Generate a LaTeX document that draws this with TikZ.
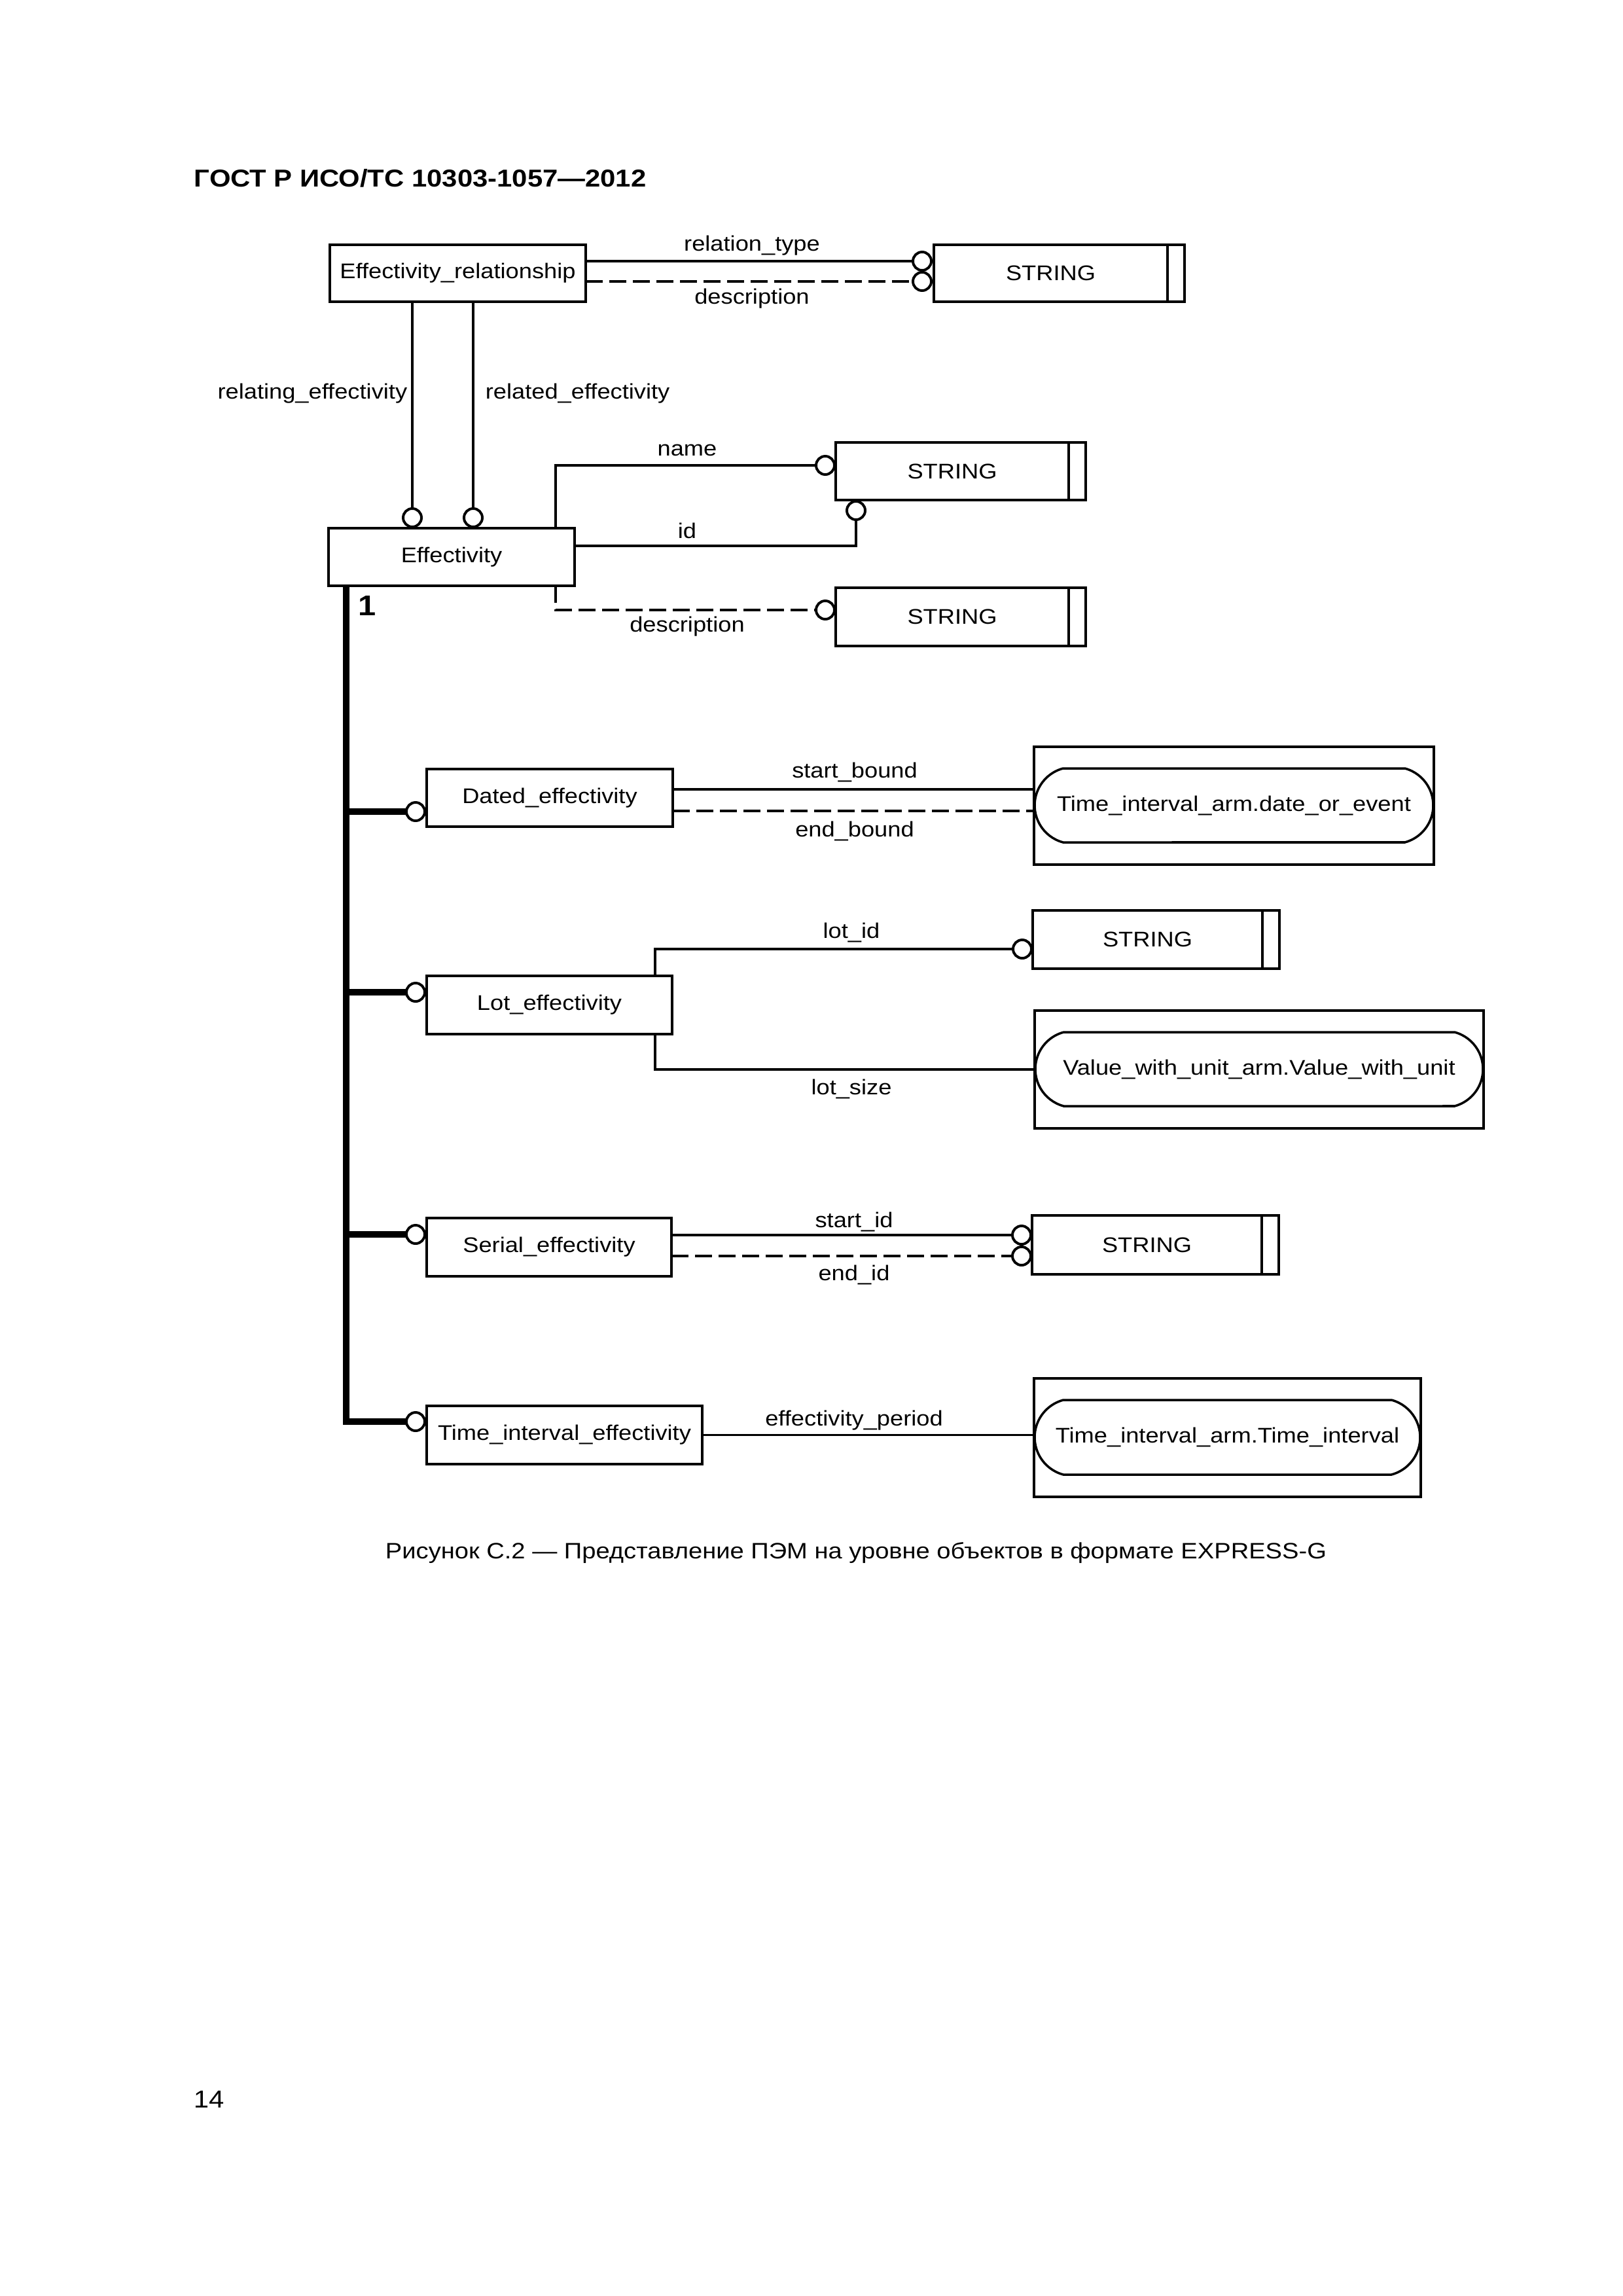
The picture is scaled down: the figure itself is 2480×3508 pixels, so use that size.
\documentclass[tikz,border=0pt]{standalone}
\usepackage{fontspec}
\setmainfont{Liberation Sans}[FakeStretch=1.12]
\usetikzlibrary{shapes.misc,calc}
\newlength{\pxu}\setlength{\pxu}{0.084677mm}
\newcommand{\lblfont}{\fontsize{7.8pt}{9pt}\selectfont}
\newcommand{\hdrfont}{\fontsize{9pt}{11pt}\selectfont\bfseries}
\begin{document}
\begin{tikzpicture}[x=0.084677mm, y=-0.084677mm,
  ln/.style={line width=0.85pt},
  box/.style={draw, rectangle, inner sep=0pt, outer sep=0pt, line width=0.95pt, font=\lblfont},
  rbox/.style={draw, rounded rectangle, rounded rectangle arc length=150, inner sep=0pt, outer sep=0pt, line width=0.85pt, font=\lblfont},
  circ/.style={draw, circle, fill=white, minimum size=28\pxu, inner sep=0pt, outer sep=0pt, line width=0.95pt},
  lbl/.style={inner sep=0pt, font=\lblfont},
  trunk/.style={line width=2.4pt},
  dsh/.style={dash pattern=on 26\pxu off 10\pxu}]
\useasboundingbox (0,0) rectangle (2480,3508);
\fill[white] (0,0) rectangle (2480,3508);

% header
\node[inner sep=0pt, anchor=west, font=\hdrfont] (hdr) at (296,272) {ГОСТ Р ИСО/ТС 10303-1057—2012};

% boxes
\node[box, minimum width=391\pxu, minimum height=87\pxu] (er) at (699.5,417.5) {Effectivity\_relationship};
\node[box, minimum width=357\pxu, minimum height=87\pxu] (s1) at (1605.5,417.5) {STRING};
\node[box, minimum width=376\pxu, minimum height=88\pxu] (eff) at (690,851) {Effectivity};
\node[box, minimum width=356\pxu, minimum height=88\pxu] (s2) at (1455,720) {STRING};
\node[box, minimum width=356\pxu, minimum height=89\pxu] (s3) at (1455,942.5) {STRING};
\node[box, minimum width=376\pxu, minimum height=88\pxu] (dated) at (840,1219) {Dated\_effectivity};
\node[box, minimum width=611\pxu, minimum height=180\pxu] (o1) at (1885.5,1231) {};
\node[rbox, minimum width=609\pxu, minimum height=113\pxu] (r1) at (1885.5,1230.5) {Time\_interval\_arm.date\_or\_event};
\node[box, minimum width=375\pxu, minimum height=89\pxu] (lot) at (839.5,1535.5) {Lot\_effectivity};
\node[box, minimum width=351\pxu, minimum height=89\pxu] (s4) at (1753.5,1435.5) {STRING};
\node[box, minimum width=686\pxu, minimum height=180\pxu] (o2) at (1924,1634) {};
\node[rbox, minimum width=684\pxu, minimum height=113\pxu] (r2) at (1924,1633.5) {Value\_with\_unit\_arm.Value\_with\_unit};
\node[box, minimum width=374\pxu, minimum height=89\pxu] (serial) at (839,1905.5) {Serial\_effectivity};
\node[box, minimum width=351\pxu, minimum height=90\pxu] (s5) at (1752.5,1902) {STRING};
\node[box, minimum width=421\pxu, minimum height=89\pxu] (tie) at (862.5,2192.5) {Time\_interval\_effectivity};
\node[box, minimum width=591\pxu, minimum height=181\pxu] (o3) at (1875.5,2196.5) {};
\node[rbox, minimum width=589\pxu, minimum height=114\pxu] (r3) at (1875.5,2196) {Time\_interval\_arm.Time\_interval};

% double bars of simple types
\foreach \s in {s1,s2,s3,s4,s5}
  \draw[line width=0.95pt] (\s.north east) rectangle ([xshift=26\pxu]\s.south east);

% circles
\node[circ] (c1) at (1409,399) {};
\node[circ] (c2) at (1409,430) {};
\node[circ] (c3) at (630,791) {};
\node[circ] (c4) at (723,791) {};
\node[circ] (c5) at (1261,711) {};
\node[circ] (c6) at (1308,780) {};
\node[circ] (c7) at (1261,932) {};
\node[circ] (cd) at (635,1240) {};
\node[circ] (cl) at (635,1516) {};
\node[circ] (c8) at (1562,1450) {};
\node[circ] (cs) at (635,1886) {};
\node[circ] (c9) at (1561,1887) {};
\node[circ] (c10) at (1561,1919) {};
\node[circ] (ct) at (635,2172) {};

% connectors
\draw[ln] (er.east |- c1) -- (c1.west);
\draw[ln,dsh] (er.east |- c2) -- (c2.west);
\draw[ln] (c3 |- er.south) -- (c3.north);
\draw[ln] (c4 |- er.south) -- (c4.north);
\coordinate (effna) at ([xshift=-29\pxu]eff.north east);
\coordinate (effsa) at ([xshift=-29\pxu]eff.south east);
\coordinate (effid) at ([yshift=17\pxu]eff.east);
\draw[ln] (effna) |- (c5.west);
\draw[ln] (effid) -| (c6.south);
\draw[ln,dsh] (effsa) |- (c7.west);

\coordinate (sb) at ([yshift=13\pxu]dated.east);
\coordinate (eb) at ([yshift=-20\pxu]dated.east);
\draw[ln] (sb) -- (sb -| o1.west);
\draw[ln,dsh] (eb) -- (eb -| o1.west);

\coordinate (lotn) at ([xshift=-26\pxu]lot.north east);
\coordinate (lots) at ([xshift=-26\pxu]lot.south east);
\draw[ln] (lotn) |- (c8.west);
\draw[ln] (lots) |- (o2.west);

\draw[ln] (serial.east |- c9) -- (c9.west);
\draw[ln,dsh] (serial.east |- c10) -- (c10.west);

\draw[ln] (tie.east) -- (tie.east -| o3.west);

% supertype tree
\coordinate (tt) at ([xshift=27\pxu]eff.south west);
\draw[trunk] (tt) |- (ct.west);
\draw[trunk] (tt |- cd) -- (cd.west);
\draw[trunk] (tt |- cl) -- (cl.west);
\draw[trunk] (tt |- cs) -- (cs.west);

% labels
\node[lbl] (l1) at (1149,375) {relation\_type};
\node[lbl] (l2) at (1149,456) {description};
\node[lbl, anchor=east] (l3) at (623,601) {relating\_effectivity};
\node[lbl, anchor=west] (l4) at (741,601) {related\_effectivity};
\node[lbl] (l5) at (1050,688) {name};
\node[lbl] (l6) at (1050,811) {id};
\node[lbl] (l7) at (1050,957) {description};
\node[inner sep=0pt, font=\fontsize{10.5pt}{12pt}\selectfont\bfseries] (l8) at (561,925) {1};
\node[lbl] (l9) at (1306,1180) {start\_bound};
\node[lbl] (l10) at (1306,1270) {end\_bound};
\node[lbl] (l11) at (1301,1425) {lot\_id};
\node[lbl] (l12) at (1301,1664) {lot\_size};
\node[lbl] (l13) at (1305,1867) {start\_id};
\node[lbl] (l14) at (1305,1948) {end\_id};
\node[lbl] (l15) at (1305,2170) {effectivity\_period};

% caption and page number
\node[inner sep=0pt, font=\fontsize{8.2pt}{10pt}\selectfont] (cap) at (1308,2373) {Рисунок С.2 — Представление ПЭМ на уровне объектов в формате EXPRESS-G};
\node[inner sep=0pt, anchor=west, font=\fontsize{9pt}{11pt}\selectfont] (pg) at (295,3208) {14};
\end{tikzpicture}
\end{document}
